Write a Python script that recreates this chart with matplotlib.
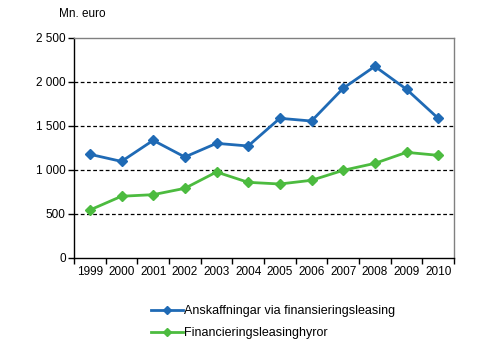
import matplotlib
matplotlib.use("Agg")
import matplotlib.pyplot as plt
from matplotlib.ticker import FuncFormatter, FixedLocator

plt.rcParams['font.family'] = ['Liberation Sans', 'DejaVu Sans']

years = ['1999', '2000', '2001', '2002', '2003', '2004', '2005', '2006', '2007', '2008', '2009', '2010']
anskaffningar = [1176, 1095, 1334, 1145, 1300, 1270, 1584, 1553, 1924, 2173, 1913, 1584]
hyror = [544, 700, 718, 790, 975, 858, 839, 881, 994, 1073, 1198, 1164]
series_names = ['Anskaffningar via finansieringsleasing', 'Financieringsleasinghyror']
y_label = 'Mn. euro'

blue = '#1F6AB5'
green = '#4CBB3F'

fig = plt.figure(figsize=(4.94, 3.55), dpi=100)
ax = fig.add_axes([74/494, 1 - 258/355, 380/494, 220.5/355])

x = list(range(len(years)))
ax.plot(x, anskaffningar, color=blue, lw=2, marker='D', ms=5.5, label=series_names[0])
ax.plot(x, hyror, color=green, lw=2, marker='D', ms=5.5, label=series_names[1])

ax.set_xlim(-0.5, len(years) - 0.5)
ax.set_ylim(0, 2500)
ax.set_yticks([0, 500, 1000, 1500, 2000, 2500])
ax.yaxis.set_major_formatter(FuncFormatter(lambda v, p: f"{int(v):,}".replace(',', ' ')))
for yv in [500, 1000, 1500, 2000]:
    ax.axhline(yv, color='black', lw=0.9, ls=(0, (3, 2)), zorder=0)

ax.set_xticks(x)
ax.set_xticklabels(years)
ax.tick_params(axis='x', which='major', length=0, labelsize=8.5, pad=6)
ax.xaxis.set_minor_locator(FixedLocator([i - 0.5 for i in range(len(years) + 1)]))
ax.tick_params(axis='x', which='minor', length=4, width=1, color='black')
ax.tick_params(axis='y', length=4, width=1, labelsize=8.5, pad=2)

ax.spines['left'].set_color('black')
ax.spines['bottom'].set_color('black')
ax.spines['top'].set_color('#808080')
ax.spines['right'].set_color('#808080')
for s in ax.spines.values():
    s.set_linewidth(1)

fig.text(59/494, 1 - 14/355, y_label, fontsize=8.5, va='center', ha='left')

leg = fig.legend(loc='center', bbox_to_anchor=(273/494, 1 - 322/355), frameon=False,
                 fontsize=9, handlelength=2.6, handletextpad=0.1, labelspacing=0.8,
                 markerscale=0.8)

fig.savefig('out.png', dpi=100)
